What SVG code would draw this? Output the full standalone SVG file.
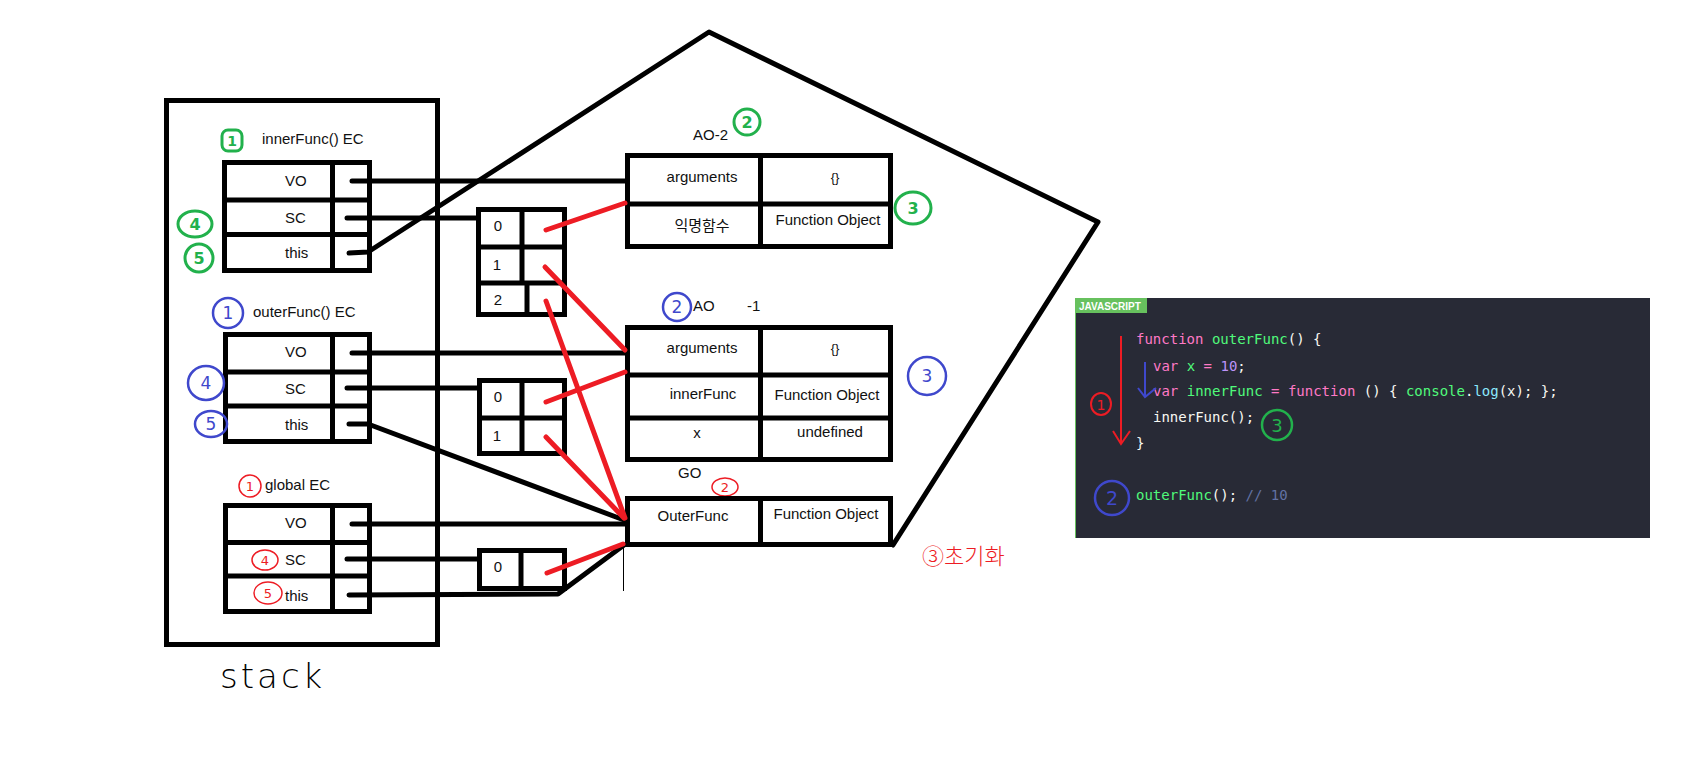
<svg xmlns="http://www.w3.org/2000/svg" width="1691" height="766" viewBox="0 0 1691 766">
<style>
.box{fill:none;stroke:#000;stroke-width:5}
.ln{fill:none;stroke:#000;stroke-width:5;stroke-linecap:round;stroke-linejoin:round}
.red{fill:none;stroke:#ed1c24;stroke-width:5;stroke-linecap:round}
.t{font-family:"Liberation Sans","Noto Sans CJK KR",sans-serif;font-size:15px;fill:#111}
.m{text-anchor:middle}
.g{fill:none;stroke:#22b14c;stroke-width:3}
.b{fill:none;stroke:#3f48cc;stroke-width:2.5}
.r{fill:none;stroke:#ed1c24;stroke-width:1.5}
.hg{font-family:"DejaVu Sans",sans-serif;font-size:16px;fill:#22b14c;font-weight:bold;text-anchor:middle}
.hb{font-family:"DejaVu Sans",sans-serif;font-size:17px;fill:#3f48cc;text-anchor:middle}
.hr{font-family:"DejaVu Sans",sans-serif;font-size:13px;fill:#ed1c24;text-anchor:middle}
.code{font-family:"DejaVu Sans Mono","Liberation Mono",monospace;font-size:14px;fill:#f8f8f2}
.kw{fill:#ff79c6}.fn{fill:#50fa7b}.nu{fill:#bd93f9}.cy{fill:#8be9fd}.cm{fill:#6272a4}
</style>
<rect width="1691" height="766" fill="#fff"/>

<g id="stack">
<rect class="box" x="166.5" y="100.5" width="271" height="544"/>
<text x="220" y="688" style="font-family:'DejaVu Sans',sans-serif;font-size:34px;font-weight:200;letter-spacing:3px" fill="#000">stack</text>
</g>

<g id="innerFuncEC">
<text class="t" x="262" y="144">innerFunc() EC</text>
<rect x="222" y="130" width="20" height="21" rx="6" class="g"/>
<text class="hg" x="232" y="146" style="font-size:14px">1</text>
<rect class="box" x="224.5" y="162.5" width="145" height="108"/>
<line class="box" x1="224" y1="200" x2="370" y2="200"/>
<line class="box" x1="224" y1="234.5" x2="370" y2="234.5"/>
<line class="box" x1="332.5" y1="162" x2="332.5" y2="271"/>
<text class="t" x="285" y="186">VO</text>
<text class="t" x="285" y="223">SC</text>
<text class="t" x="285" y="258">this</text>
<ellipse cx="195" cy="224" rx="17" ry="13" class="g"/>
<text class="hg" x="195" y="230">4</text>
<circle cx="199" cy="258" r="14" class="g"/>
<text class="hg" x="199" y="264">5</text>
</g>

<g id="outerFuncEC">
<text class="t" x="253" y="317">outerFunc() EC</text>
<circle cx="228" cy="313" r="15" class="b"/>
<text class="hb" x="228" y="319">1</text>
<rect class="box" x="225.5" y="334.5" width="144" height="107"/>
<line class="box" x1="225" y1="372" x2="370" y2="372"/>
<line class="box" x1="225" y1="406" x2="370" y2="406"/>
<line class="box" x1="332.5" y1="334" x2="332.5" y2="442"/>
<text class="t" x="285" y="357">VO</text>
<text class="t" x="285" y="394">SC</text>
<text class="t" x="285" y="430">this</text>
<ellipse cx="206" cy="383" rx="18" ry="17" class="b"/>
<text class="hb" x="206" y="389">4</text>
<ellipse cx="211" cy="424" rx="16" ry="13" class="b"/>
<text class="hb" x="211" y="430">5</text>
</g>

<g id="globalEC">
<text class="t" x="265" y="490">global EC</text>
<circle cx="250" cy="486" r="11" class="r"/>
<text class="hr" x="250" y="491">1</text>
<rect class="box" x="225.5" y="505.5" width="144" height="106"/>
<line class="box" x1="225" y1="542.5" x2="370" y2="542.5"/>
<line class="box" x1="225" y1="576" x2="370" y2="576"/>
<line class="box" x1="332.5" y1="505" x2="332.5" y2="612"/>
<text class="t" x="285" y="528">VO</text>
<text class="t" x="285" y="565">SC</text>
<text class="t" x="285" y="601">this</text>
<ellipse cx="265" cy="560" rx="13" ry="10" class="r"/>
<text class="hr" x="265" y="565">4</text>
<ellipse cx="268" cy="593" rx="14" ry="11" class="r"/>
<text class="hr" x="268" y="598">5</text>
</g>

<g id="scopeChain1">
<rect class="box" x="478.5" y="209.5" width="86" height="105"/>
<line class="box" x1="476" y1="247" x2="567" y2="247"/>
<line class="box" x1="476" y1="283" x2="567" y2="283"/>
<line class="box" x1="522" y1="209" x2="522" y2="283"/>
<line class="box" x1="527" y1="283" x2="527" y2="315"/>
<text class="t m" x="498" y="231">0</text>
<text class="t m" x="497" y="270">1</text>
<text class="t m" x="498" y="305">2</text>
</g>

<g id="scopeChain2">
<rect class="box" x="479.5" y="380.5" width="85" height="73"/>
<line class="box" x1="477" y1="418" x2="567" y2="418"/>
<line class="box" x1="522" y1="380" x2="522" y2="454"/>
<text class="t m" x="498" y="402">0</text>
<text class="t m" x="497" y="441">1</text>
</g>

<g id="scopeChain3">
<rect class="box" x="479.5" y="550.5" width="85" height="38"/>
<line class="box" x1="521" y1="550" x2="521" y2="589"/>
<text class="t m" x="498" y="572">0</text>
</g>

<g id="AO2">
<text class="t" x="693" y="140">AO-2</text>
<circle cx="747" cy="122" r="13" class="g"/>
<text class="hg" x="747" y="128">2</text>
<rect class="box" x="627.5" y="155.5" width="263" height="91"/>
<line class="box" x1="627" y1="204" x2="891" y2="204"/>
<line class="box" x1="760.5" y1="155" x2="760.5" y2="247"/>
<text class="t m" x="702" y="182">arguments</text>
<text class="t m" x="835" y="182" style="font-size:13px">{}</text>
<text class="t m" x="702" y="231">익명함수</text>
<text class="t m" x="828" y="225">Function Object</text>
<ellipse cx="913" cy="208" rx="18" ry="16" class="g"/>
<text class="hg" x="913" y="214">3</text>
</g>

<g id="AO1">
<circle cx="677" cy="307" r="14" class="b"/>
<text class="hb" x="677" y="313">2</text>
<text class="t" x="693" y="311">AO</text>
<text class="t" x="747" y="311">-1</text>
<rect class="box" x="627.5" y="327.5" width="263" height="132"/>
<line class="box" x1="627" y1="375" x2="891" y2="375"/>
<line class="box" x1="627" y1="418" x2="891" y2="418"/>
<line class="box" x1="760.5" y1="327" x2="760.5" y2="460"/>
<text class="t m" x="702" y="353">arguments</text>
<text class="t m" x="835" y="353" style="font-size:13px">{}</text>
<text class="t m" x="703" y="399">innerFunc</text>
<text class="t m" x="827" y="400">Function Object</text>
<text class="t m" x="697" y="438">x</text>
<text class="t m" x="830" y="437">undefined</text>
<circle cx="927" cy="376" r="19" class="b"/>
<text class="hb" x="927" y="382">3</text>
</g>

<g id="GO">
<text class="t" x="678" y="478">GO</text>
<ellipse cx="725" cy="487" rx="13" ry="9" class="r"/>
<text class="hr" x="725" y="492">2</text>
<rect class="box" x="627.5" y="498.5" width="263" height="46"/>
<line class="box" x1="760.5" y1="498" x2="760.5" y2="547"/>
<text class="t m" x="693" y="521">OuterFunc</text>
<text class="t m" x="826" y="519">Function Object</text>
<text x="922" y="564" style="font-family:'Noto Sans CJK KR',sans-serif;font-size:22px;font-weight:300" fill="#ed1c24">③초기화</text>
</g>

<g id="connectors">
<polyline class="ln" points="349,253 368,252 709,32 1098,222 893,545"/>
<line class="ln" x1="352" y1="181" x2="625" y2="181"/>
<line class="ln" x1="347" y1="218" x2="477" y2="218"/>
<line class="ln" x1="352" y1="353" x2="625" y2="353"/>
<line class="ln" x1="347" y1="388" x2="477" y2="388"/>
<polyline class="ln" points="349,424 368,424 624,520"/>
<line class="ln" x1="352" y1="524" x2="625" y2="524"/>
<line class="ln" x1="347" y1="559" x2="477" y2="559"/>
<polyline class="ln" points="349,595 558,594 624,545"/>
<line x1="623.5" y1="547" x2="623.5" y2="591" stroke="#000" stroke-width="1"/>
<line class="red" x1="546" y1="230" x2="625" y2="203"/>
<line class="red" x1="545" y1="267" x2="625" y2="350"/>
<line class="red" x1="546" y1="301" x2="625" y2="518"/>
<line class="red" x1="546" y1="402" x2="625" y2="372"/>
<line class="red" x1="546" y1="437" x2="624" y2="518"/>
<line class="red" x1="547" y1="573" x2="623" y2="544"/>
</g>

<g id="codePanel">
<rect x="1075" y="298" width="575" height="240" fill="#282a36"/>
<line x1="1075.5" y1="298" x2="1075.5" y2="538" stroke="#67c15e" stroke-width="1"/>
<rect x="1075" y="298" width="72" height="15" fill="#67c15e"/>
<text x="1079" y="310" style="font-family:'Liberation Sans',sans-serif;font-size:10px;font-weight:bold" fill="#fff">JAVASCRIPT</text>
<text class="code" x="1136" y="344"><tspan class="kw">function</tspan> <tspan class="fn">outerFunc</tspan>() {</text>
<text class="code" x="1153" y="371"><tspan class="kw">var</tspan> <tspan class="fn">x</tspan> <tspan class="kw">=</tspan> <tspan class="nu">10</tspan>;</text>
<text class="code" x="1153" y="396"><tspan class="kw">var</tspan> <tspan class="fn">innerFunc</tspan> <tspan class="kw">=</tspan> <tspan class="kw">function</tspan> () { <tspan class="fn">console</tspan>.<tspan class="cy">log</tspan>(x); };</text>
<text class="code" x="1153" y="422">innerFunc();</text>
<text class="code" x="1136" y="448">}</text>
<text class="code" x="1136" y="500"><tspan class="fn">outerFunc</tspan>(); <tspan class="cm">// 10</tspan></text>
<polyline points="1121,336 1121,444" fill="none" stroke="#ed1c24" stroke-width="2"/>
<polyline points="1113,431 1121,444 1130,431" fill="none" stroke="#ed1c24" stroke-width="2"/>
<ellipse cx="1101" cy="404" rx="10" ry="11" fill="none" stroke="#ed1c24" stroke-width="2"/>
<text x="1101" y="410" style="font-family:'DejaVu Sans',sans-serif;font-size:14px;text-anchor:middle" fill="#ed1c24">1</text>
<polyline points="1145,362 1145,397" fill="none" stroke="#3f48cc" stroke-width="2"/>
<polyline points="1138,388 1145,397 1156,388" fill="none" stroke="#3f48cc" stroke-width="2"/>
<circle cx="1277" cy="425" r="15" fill="none" stroke="#22b14c" stroke-width="2.5"/>
<text x="1277" y="432" style="font-family:'DejaVu Sans',sans-serif;font-size:18px;text-anchor:middle" fill="#22b14c">3</text>
<circle cx="1112" cy="498" r="17" fill="none" stroke="#3f48cc" stroke-width="2.5"/>
<text x="1112" y="505" style="font-family:'DejaVu Sans',sans-serif;font-size:19px;text-anchor:middle" fill="#3f48cc">2</text>
</g>
</svg>
